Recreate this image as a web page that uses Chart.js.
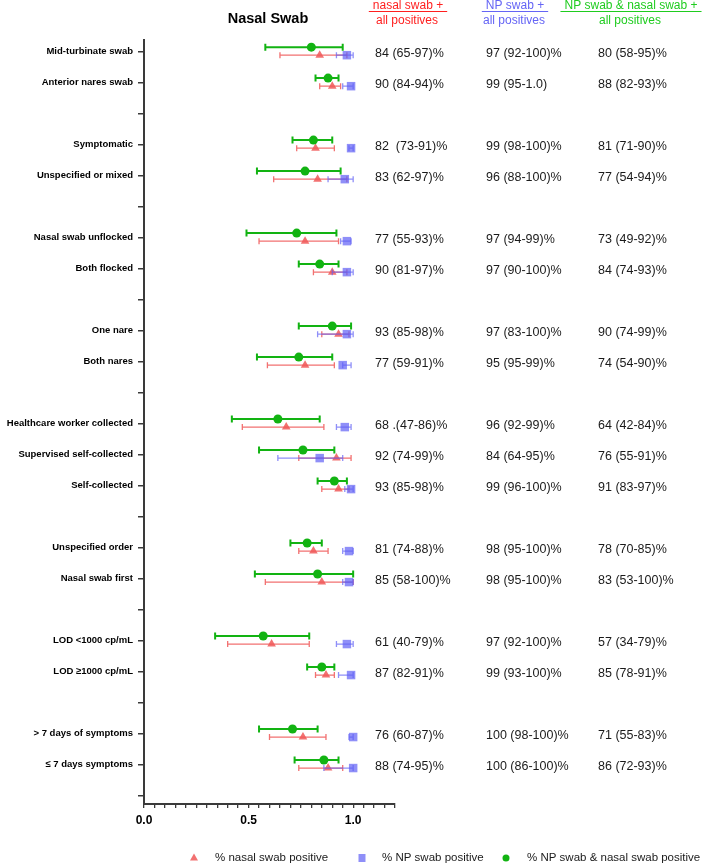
<!DOCTYPE html>
<html>
<head>
<meta charset="utf-8">
<title>Nasal Swab</title>
<script src="https://cdn.jsdelivr.net/npm/chart.js@4.4.1/dist/chart.umd.min.js"></script>
<style>
  html, body { margin: 0; padding: 0; background: #fff; }
</style>
</head>
<body>
<canvas id="forest" width="720" height="866"></canvas>
<script>
// rows of the plot, "" = spacer row between groups
var rowLabels = ["Mid-turbinate swab", "Anterior nares swab", "",
  "Symptomatic", "Unspecified or mixed", "",
  "Nasal swab unflocked", "Both flocked", "",
  "One nare", "Both nares", "",
  "Healthcare worker collected", "Supervised self-collected", "Self-collected", "",
  "Unspecified order", "Nasal swab first", "",
  "LOD <1000 cp/mL", "LOD \u22651000 cp/mL", "",
  "> 7 days of symptoms", "\u2264 7 days symptoms", ""];

// % nasal swab positive
var nasalPct = [84, 90, null, 82, 83, null, 77, 90, null, 93, 77, null, 68, 92, 93, null, 81, 85, null, 61, 87, null, 76, 88, null];
var nasalLo  = [65, 84, null, 73, 62, null, 55, 81, null, 85, 59, null, 47, 74, 85, null, 74, 58, null, 40, 82, null, 60, 74, null];
var nasalHi  = [97, 94, null, 91, 97, null, 93, 97, null, 98, 91, null, 86, 99, 98, null, 88, 100, null, 79, 91, null, 87, 95, null];

// % NP swab positive
var npPct = [97, 99, null, 99, 96, null, 97, 97, null, 97, 95, null, 96, 84, 99, null, 98, 98, null, 97, 99, null, 100, 100, null];
var npLo  = [92, 95, null, 98, 88, null, 94, 90, null, 83, 95, null, 92, 64, 96, null, 95, 95, null, 92, 93, null, 98, 86, null];
var npHi  = [100, 100, null, 100, 100, null, 99, 100, null, 100, 99, null, 99, 95, 100, null, 100, 100, null, 100, 100, null, 100, 100, null];

// % NP swab & nasal swab positive
var bothPct = [80, 88, null, 81, 77, null, 73, 84, null, 90, 74, null, 64, 76, 91, null, 78, 83, null, 57, 85, null, 71, 86, null];
var bothLo  = [58, 82, null, 71, 54, null, 49, 74, null, 74, 54, null, 42, 55, 83, null, 70, 53, null, 34, 78, null, 55, 72, null];
var bothHi  = [95, 93, null, 90, 94, null, 92, 93, null, 99, 90, null, 84, 91, 97, null, 85, 100, null, 79, 91, null, 83, 93, null];

// text columns on the right
var nasalText = ["84 (65-97)%", "90 (84-94)%", "", "82  (73-91)%", "83 (62-97)%", "", "77 (55-93)%", "90 (81-97)%", "",
  "93 (85-98)%", "77 (59-91)%", "", "68 .(47-86)%", "92 (74-99)%", "93 (85-98)%", "", "81 (74-88)%", "85 (58-100)%", "",
  "61 (40-79)%", "87 (82-91)%", "", "76 (60-87)%", "88 (74-95)%", ""];
var npText = ["97 (92-100)%", "99 (95-1.0)", "", "99 (98-100)%", "96 (88-100)%", "", "97 (94-99)%", "97 (90-100)%", "",
  "97 (83-100)%", "95 (95-99)%", "", "96 (92-99)%", "84 (64-95)%", "99 (96-100)%", "", "98 (95-100)%", "98 (95-100)%", "",
  "97 (92-100)%", "99 (93-100)%", "", "100 (98-100)%", "100 (86-100)%", ""];
var bothText = ["80 (58-95)%", "88 (82-93)%", "", "81 (71-90)%", "77 (54-94)%", "", "73 (49-92)%", "84 (74-93)%", "",
  "90 (74-99)%", "74 (54-90)%", "", "64 (42-84)%", "76 (55-91)%", "91 (83-97)%", "", "78 (70-85)%", "83 (53-100)%", "",
  "57 (34-79)%", "85 (78-91)%", "", "71 (55-83)%", "86 (72-93)%", ""];

var xTickLabels = ["0.0", "0.5", "1.0"];

var FONT = "'Liberation Sans', Arial, sans-serif";
var RED = "rgba(240, 88, 88, 0.85)";
var BLUE = "rgba(95, 95, 245, 0.7)";
var GREEN = "#12b312";

function toPoints(pct, shift) {
  var out = [];
  pct.forEach(function (v, i) {
    if (v !== null) out.push({ x: v / 100, y: i + shift });
  });
  return out;
}

// confidence interval whiskers, drawn right before each dataset's markers
var whiskers = {
  id: 'whiskers',
  beforeDatasetDraw: function (chart, args) {
    var ds = chart.data.datasets[args.index];
    var xs = chart.scales.x, ys = chart.scales.y, ctx = chart.ctx;
    ctx.save();
    ctx.strokeStyle = ds.whiskerColor;
    ctx.lineWidth = ds.whiskerWidth;
    ds.pct.forEach(function (v, i) {
      if (v === null) return;
      var y = ys.getPixelForValue(i + ds.shift);
      var x1 = xs.getPixelForValue(ds.lo[i] / 100);
      var x2 = xs.getPixelForValue(ds.hi[i] / 100);
      ctx.beginPath();
      ctx.moveTo(x1, y); ctx.lineTo(x2, y);
      ctx.moveTo(x1, y - ds.cap); ctx.lineTo(x1, y + ds.cap);
      ctx.moveTo(x2, y - ds.cap); ctx.lineTo(x2, y + ds.cap);
      ctx.stroke();
    });
    ctx.restore();
  }
};

function marker(ctx, style, x, y, color) {
  ctx.fillStyle = color;
  ctx.beginPath();
  if (style === 'triangle') {
    ctx.moveTo(x, y - 4.5); ctx.lineTo(x + 4, y + 2.5); ctx.lineTo(x - 4, y + 2.5);
    ctx.closePath();
  } else if (style === 'rect') {
    ctx.rect(x - 3.5, y - 4, 7, 8);
  } else {
    ctx.arc(x, y, 3.5, 0, Math.PI * 2);
  }
  ctx.fill();
}

// headers, value columns and legend
var annotations = {
  id: 'annotations',
  afterDraw: function (chart) {
    var ctx = chart.ctx, ys = chart.scales.y;
    ctx.save();
    ctx.textBaseline = 'middle';

    ctx.fillStyle = '#000';
    ctx.textAlign = 'center';
    ctx.font = 'bold 14.5px ' + FONT;
    ctx.fillText('Nasal Swab', 268, 18.5);

    var heads = [
      { line1: 'nasal swab +', x: 408, color: '#ff1f1f' },
      { line1: 'NP swab +', x: 515, color: '#6565f5' },
      { line1: 'NP swab & nasal swab +', x: 631, color: '#1fcc1f' }
    ];
    ctx.font = '12px ' + FONT;
    heads.forEach(function (h) {
      ctx.fillStyle = h.color;
      ctx.fillText(h.line1, h.x, 6);
      ctx.fillText('all positives', h.x - 1, 21);
      var w = ctx.measureText(h.line1).width;
      ctx.strokeStyle = h.color;
      ctx.lineWidth = 1;
      ctx.beginPath();
      ctx.moveTo(h.x - w / 2 - 4, 11.5);
      ctx.lineTo(h.x + w / 2 + 4, 11.5);
      ctx.stroke();
    });

    ctx.fillStyle = '#1a1a1a';
    ctx.textAlign = 'left';
    ctx.font = '12.5px ' + FONT;
    var cols = [{ txt: nasalText, x: 375 }, { txt: npText, x: 486 }, { txt: bothText, x: 598 }];
    cols.forEach(function (c) {
      c.txt.forEach(function (t, i) {
        if (t) ctx.fillText(t, c.x, ys.getPixelForValue(i) + 2);
      });
    });

    var legend = [
      { style: 'triangle', color: RED, x: 194, tx: 215, text: '% nasal swab positive' },
      { style: 'rect', color: BLUE, x: 362, tx: 382, text: '% NP swab positive' },
      { style: 'circle', color: GREEN, x: 506, tx: 527, text: '% NP swab & nasal swab positive' }
    ];
    ctx.font = '11.5px ' + FONT;
    legend.forEach(function (l) {
      marker(ctx, l.style, l.x, 858, l.color);
      ctx.fillStyle = '#1a1a1a';
      ctx.fillText(l.text, l.tx, 858);
    });
    ctx.restore();
  }
};

new Chart(document.getElementById('forest'), {
  type: 'scatter',
  data: {
    datasets: [{
      label: '% nasal swab positive',
      data: toPoints(nasalPct, 0.12),
      pct: nasalPct, lo: nasalLo, hi: nasalHi, shift: 0.12,
      whiskerColor: RED, whiskerWidth: 1.3, cap: 3,
      pointStyle: 'triangle', pointRadius: 5, pointBorderWidth: 0,
      backgroundColor: RED, borderColor: RED,
      order: 3
    }, {
      label: '% NP swab positive',
      data: toPoints(npPct, 0.12),
      pct: npPct, lo: npLo, hi: npHi, shift: 0.12,
      whiskerColor: BLUE, whiskerWidth: 1.3, cap: 3,
      pointStyle: 'rect', pointRadius: 6, pointBorderWidth: 0,
      backgroundColor: BLUE, borderColor: BLUE,
      order: 2
    }, {
      label: '% NP swab & nasal swab positive',
      data: toPoints(bothPct, -0.14),
      pct: bothPct, lo: bothLo, hi: bothHi, shift: -0.14,
      whiskerColor: GREEN, whiskerWidth: 2, cap: 3.5,
      pointStyle: 'circle', pointRadius: 4.5, pointBorderWidth: 0,
      backgroundColor: GREEN, borderColor: GREEN,
      order: 1
    }]
  },
  options: {
    responsive: false,
    animation: false,
    layout: { padding: { left: 0, right: 325, top: 40, bottom: 20 } },
    plugins: {
      legend: { display: false },
      tooltip: { enabled: false }
    },
    scales: {
      x: {
        type: 'linear',
        min: 0,
        max: 1.2,
        border: { display: true, color: '#3a3a3a', width: 2 },
        grid: { drawOnChartArea: false, drawTicks: true, tickLength: 4, color: '#3a3a3a', lineWidth: 1.3 },
        ticks: {
          stepSize: 0.05,
          autoSkip: false,
          maxRotation: 0,
          padding: 5,
          color: '#000',
          font: { family: FONT, size: 12, weight: 'bold' },
          callback: function (v) {
            var k = Math.round(v * 100);
            return k % 50 === 0 ? xTickLabels[k / 50] : '';
          }
        },
        afterFit: function (scale) { scale.height = 42; }
      },
      y: {
        type: 'linear',
        reverse: true,
        min: -0.37,
        max: 24.28,
        border: { display: true, color: '#3a3a3a', width: 2 },
        grid: { drawOnChartArea: false, drawTicks: true, tickLength: 6, color: '#3a3a3a', lineWidth: 1.5 },
        afterBuildTicks: function (scale) {
          scale.ticks = rowLabels.map(function (_, i) { return { value: i }; });
        },
        ticks: {
          autoSkip: false,
          padding: 5,
          color: '#000',
          font: { family: FONT, size: 9.5, weight: 'bold' },
          callback: function (v) { return rowLabels[v]; }
        },
        afterFit: function (scale) { scale.width = 144; }
      }
    }
  },
  plugins: [whiskers, annotations]
});
</script>
</body>
</html>
